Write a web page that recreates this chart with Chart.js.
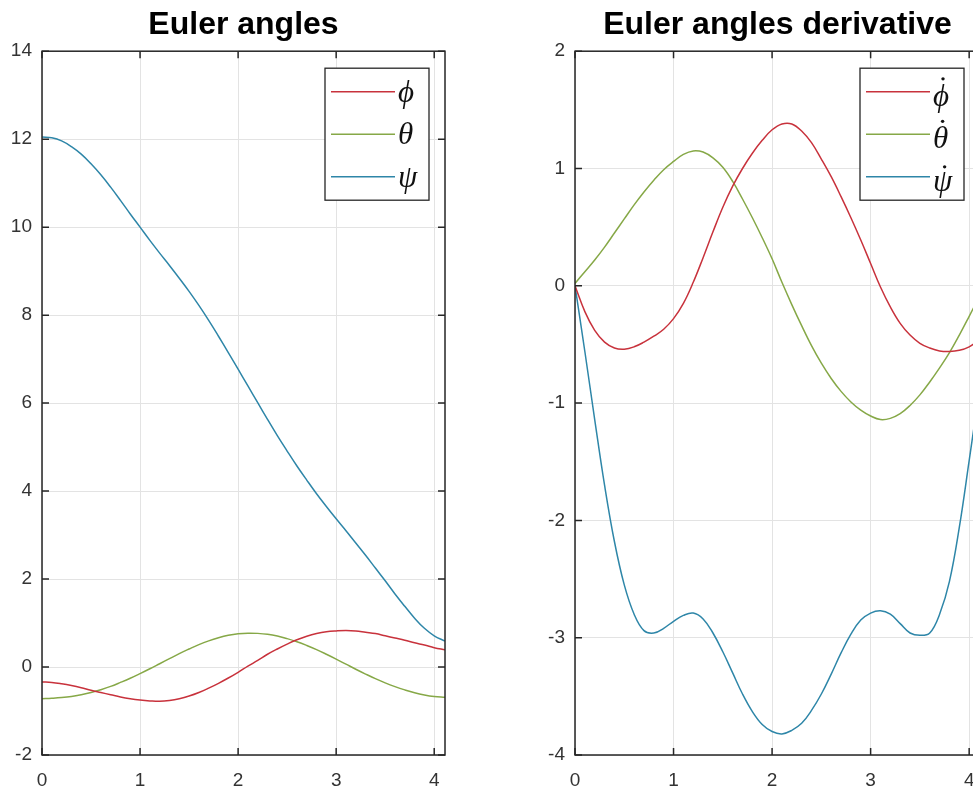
<!DOCTYPE html>
<html>
<head>
<meta charset="utf-8">
<script src="https://cdn.jsdelivr.net/npm/chart.js@4.4.1/dist/chart.umd.min.js"></script>
<style>
  html, body { margin: 0; padding: 0; overflow: hidden; background: #fff; }
  body { width: 973px; height: 790px; position: relative; }
  canvas { position: absolute; top: 0; }
</style>
</head>
<body>
<canvas id="angles" width="480" height="790" style="left:0"></canvas>
<canvas id="rates" width="520" height="790" style="left:480px"></canvas>
<script>
// time axis (s)
const t = [0, 0.1, 0.2, 0.3, 0.4, 0.5, 0.6, 0.7, 0.8, 0.9, 1.0, 1.1, 1.2, 1.3, 1.4, 1.5, 1.6, 1.7, 1.8, 1.9, 2.0,
  2.1, 2.2, 2.3, 2.4, 2.5, 2.6, 2.7, 2.8, 2.9, 3.0, 3.1, 3.2, 3.3, 3.4, 3.5, 3.6, 3.7, 3.8, 3.9, 4.0, 4.11];

// Euler angles
const phi = [-0.34, -0.35, -0.38, -0.42, -0.47, -0.53, -0.58, -0.63, -0.68, -0.72, -0.75, -0.77, -0.78, -0.76, -0.72,
  -0.66, -0.58, -0.48, -0.37, -0.25, -0.12, 0.02, 0.15, 0.29, 0.41, 0.52, 0.62, 0.70, 0.76, 0.80, 0.82, 0.83, 0.82,
  0.79, 0.76, 0.71, 0.66, 0.61, 0.55, 0.50, 0.44, 0.39];
const theta = [-0.72, -0.71, -0.695, -0.67, -0.63, -0.58, -0.515, -0.44, -0.35, -0.255, -0.15, -0.04, 0.075, 0.19,
  0.305, 0.41, 0.51, 0.595, 0.665, 0.72, 0.755, 0.77, 0.765, 0.745, 0.705, 0.645, 0.575, 0.49, 0.395, 0.29, 0.18,
  0.065, -0.05, -0.16, -0.265, -0.36, -0.445, -0.52, -0.585, -0.635, -0.67, -0.69];
const psi = [12.05, 12.03, 11.96, 11.83, 11.66, 11.44, 11.19, 10.91, 10.61, 10.30, 10.00, 9.70, 9.41, 9.13, 8.84,
  8.54, 8.22, 7.88, 7.52, 7.15, 6.77, 6.39, 6.01, 5.63, 5.26, 4.91, 4.57, 4.25, 3.94, 3.65, 3.37, 3.10, 2.82, 2.54,
  2.25, 1.96, 1.66, 1.38, 1.11, 0.88, 0.71, 0.59];

// Euler angle derivatives
const dphi = [0, -0.22, -0.38, -0.48, -0.53, -0.54, -0.52, -0.48, -0.43, -0.37, -0.28, -0.15, 0.03, 0.24, 0.46, 0.67,
  0.85, 1.00, 1.13, 1.24, 1.33, 1.38, 1.38, 1.32, 1.22, 1.08, 0.93, 0.76, 0.58, 0.39, 0.19, -0.01, -0.18, -0.32,
  -0.42, -0.49, -0.53, -0.555, -0.56, -0.55, -0.52, -0.46];
const dtheta = [0.02, 0.12, 0.22, 0.33, 0.45, 0.57, 0.69, 0.80, 0.90, 0.99, 1.06, 1.12, 1.15, 1.14, 1.09, 1.01, 0.89,
  0.74, 0.58, 0.41, 0.23, 0.03, -0.16, -0.34, -0.51, -0.66, -0.79, -0.90, -0.99, -1.06, -1.11, -1.14, -1.13, -1.09,
  -1.02, -0.93, -0.82, -0.70, -0.57, -0.42, -0.26, -0.08];
const dpsi = [0, -0.56, -1.14, -1.70, -2.18, -2.55, -2.80, -2.94, -2.96, -2.92, -2.86, -2.81, -2.79, -2.84, -2.96,
  -3.12, -3.30, -3.48, -3.63, -3.74, -3.80, -3.82, -3.79, -3.73, -3.62, -3.48, -3.31, -3.13, -2.97, -2.85, -2.79,
  -2.77, -2.80, -2.88, -2.96, -2.98, -2.96, -2.80, -2.52, -2.06, -1.49, -0.85];

const xTicks = [0, 1, 2, 3, 4];
const angleLabels = ['\u03D5', '\u03B8', '\u03C8'];
const rateLabels = ['\u03D5\u0307', '\u03B8\u0307', '\u03C8\u0307'];
const colors = ['#c8323c', '#86a847', '#2e86a8'];

Chart.defaults.font.family = "'Liberation Sans', Arial, sans-serif";
Chart.defaults.color = '#333333';

// MATLAB style box with inward ticks on all four sides
const axesBox = {
  id: 'axesBox',
  afterDatasetsDraw(chart) {
    const { ctx, chartArea: a, scales: { x, y } } = chart;
    const len = 7;
    ctx.save();
    ctx.strokeStyle = '#262626';
    ctx.lineWidth = 1.5;
    ctx.strokeRect(a.left, a.top, a.right - a.left, a.bottom - a.top);
    ctx.beginPath();
    x.ticks.forEach(tk => {
      const px = x.getPixelForValue(tk.value);
      ctx.moveTo(px, a.bottom); ctx.lineTo(px, a.bottom - len);
      ctx.moveTo(px, a.top); ctx.lineTo(px, a.top + len);
    });
    y.ticks.forEach(tk => {
      const py = y.getPixelForValue(tk.value);
      ctx.moveTo(a.left, py); ctx.lineTo(a.left + len, py);
      ctx.moveTo(a.right, py); ctx.lineTo(a.right - len, py);
    });
    ctx.stroke();
    ctx.restore();
  }
};

// legend box in the upper right corner of the axes
const boxLegend = {
  id: 'boxLegend',
  afterDraw(chart) {
    const { ctx, chartArea: a } = chart;
    const w = 104, h = 132;
    const left = a.right - 16 - w, top = a.top + 17;
    const rows = [23.5, 66, 108.5];
    ctx.save();
    ctx.fillStyle = '#ffffff';
    ctx.fillRect(left, top, w, h);
    ctx.strokeStyle = '#262626';
    ctx.lineWidth = 1.3;
    ctx.strokeRect(left, top, w, h);
    chart.data.datasets.forEach((ds, i) => {
      const y = top + rows[i];
      ctx.strokeStyle = ds.borderColor;
      ctx.lineWidth = 1.5;
      ctx.beginPath();
      ctx.moveTo(left + 6, y);
      ctx.lineTo(left + 70, y);
      ctx.stroke();

      // a trailing combining dot (time derivative) is drawn as an overdot
      const dotted = ds.label.endsWith('\u0307');
      const base = dotted ? ds.label.slice(0, -1) : ds.label;
      const ty = dotted ? y + 6 : y + 2;
      ctx.fillStyle = '#111111';
      ctx.font = "italic 31px 'Liberation Serif', 'DejaVu Serif', serif";
      ctx.textBaseline = 'middle';
      ctx.textAlign = 'left';
      ctx.fillText(base, left + 73, ty);
      if (dotted) {
        const m = ctx.measureText(base);
        const cx = left + 73 + m.width / 2 + 2;
        const cy = ty - m.actualBoundingBoxAscent - 5;
        ctx.beginPath();
        ctx.arc(cx, cy, 1.7, 0, Math.PI * 2);
        ctx.fill();
      }
    });
    ctx.restore();
  }
};

function makeChart(id, title, series, labels, yMin, yMax, yStep, yWidth, rightPad) {
  const datasets = series.map((vals, i) => ({
    label: labels[i],
    data: t.map((x, j) => ({ x: x, y: vals[j] })),
    borderColor: colors[i],
    borderWidth: 1.5,
    pointRadius: 0,
    tension: 0.4,
    fill: false
  }));

  return new Chart(document.getElementById(id), {
    type: 'line',
    data: { datasets: datasets },
    options: {
      responsive: false,
      animation: false,
      devicePixelRatio: 1,
      layout: { padding: { left: 0, right: rightPad, top: 0, bottom: 0 } },
      plugins: {
        legend: { display: false },
        tooltip: { enabled: false },
        title: {
          display: true,
          text: title,
          fullSize: false,
          color: '#000000',
          font: { size: 32, weight: 'bold', lineHeight: 1.1 },
          padding: { top: 8, bottom: 8 }
        }
      },
      scales: {
        x: {
          type: 'linear',
          min: 0,
          max: 4.11,
          afterBuildTicks: scale => { scale.ticks = xTicks.map(v => ({ value: v })); },
          afterFit: scale => { scale.height = 35; },
          grid: { color: '#e3e3e3', lineWidth: 1, drawTicks: false },
          border: { display: false },
          ticks: { padding: 14, maxRotation: 0, font: { size: 19 }, color: '#333333' }
        },
        y: {
          min: yMin,
          max: yMax,
          afterFit: scale => { scale.width = yWidth; },
          grid: { color: '#e3e3e3', lineWidth: 1, drawTicks: false },
          border: { display: false },
          ticks: { stepSize: yStep, padding: 10, font: { size: 19 }, color: '#333333' }
        }
      }
    },
    plugins: [axesBox, boxLegend]
  });
}

makeChart('angles', 'Euler angles', [phi, theta, psi], angleLabels, -2, 14, 2, 42, 35);
makeChart('rates', 'Euler angles derivative', [dphi, dtheta, dpsi], rateLabels, -4, 2, 1, 95, 20);
</script>
</body>
</html>
